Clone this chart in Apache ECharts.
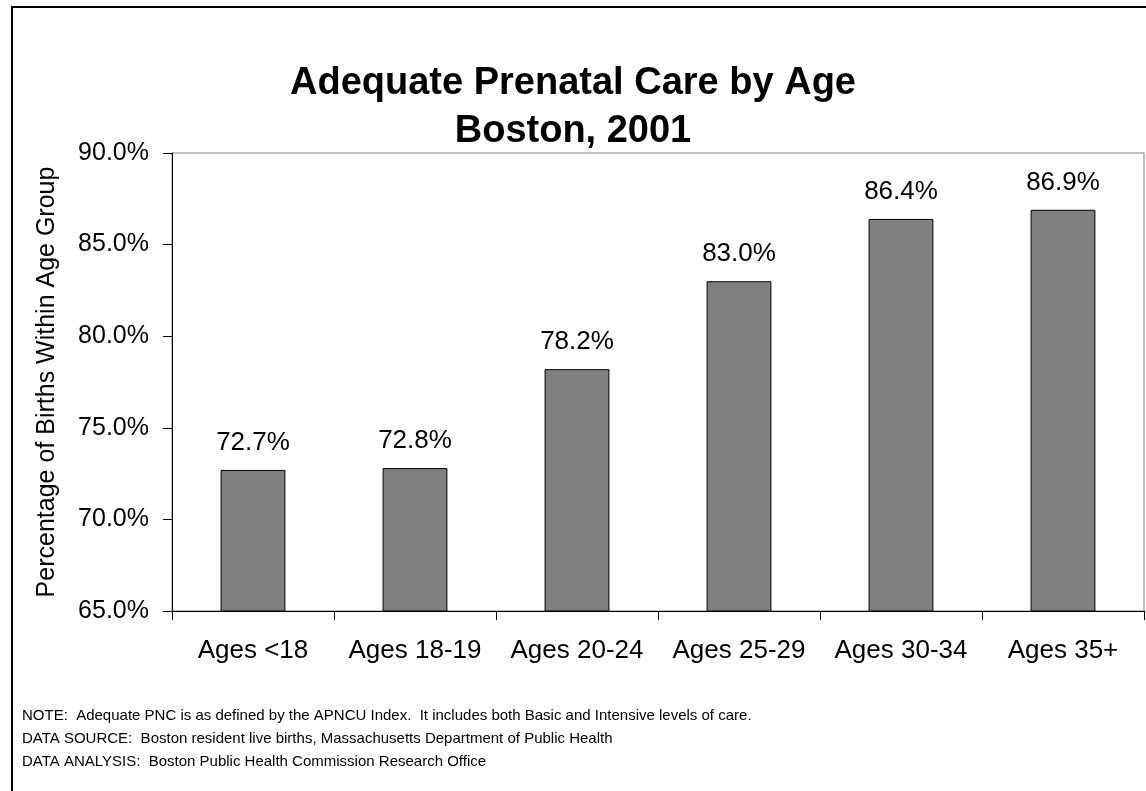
<!DOCTYPE html>
<html>
<head>
    <meta charset="utf-8">
    <script src="https://cdn.jsdelivr.net/npm/echarts@6/dist/echarts.min.js"></script>
    <style>
        html, body { margin: 0; padding: 0; background: #fff; }
    </style>
</head>
<body>
    <div id="chart" style="width: 1146px;height:791px;"></div>
    <script type="text/javascript">
        // data
        var ageGroups = ['Ages <18', 'Ages 18-19', 'Ages 20-24', 'Ages 25-29', 'Ages 30-34', 'Ages 35+'];
        var adequatePct = [72.7, 72.8, 78.2, 83.0, 86.4, 86.9];
        var notes = [
            'NOTE:  Adequate PNC is as defined by the APNCU Index.  It includes both Basic and Intensive levels of care.',
            'DATA SOURCE:  Boston resident live births, Massachusetts Department of Public Health',
            'DATA ANALYSIS:  Boston Public Health Commission Research Office'
        ];

        var font = 'Arial, "Liberation Sans", sans-serif';
        var myChart = echarts.init(document.getElementById('chart'));

        var noteTexts = [];
        for (var i = 0; i < notes.length; i++) {
            noteTexts.push({
                type: 'text', left: 22, top: 708 + i * 23,
                style: { text: notes[i], font: '15px ' + font, fill: '#000' }
            });
        }

        option = {
            backgroundColor: '#fff',
            animation: false,
            title: {
                text: 'Adequate Prenatal Care by Age\nBoston, 2001',
                left: 'center',
                top: 55,
                textStyle: { fontFamily: font, fontSize: 38, fontWeight: 'bold', color: '#000', lineHeight: 48 }
            },
            graphic: [{
                type: 'rect',
                shape: { x: 12, y: 7, width: 1200, height: 900 },
                style: { fill: 'none', stroke: '#000', lineWidth: 2 }
            }].concat(noteTexts),
            grid: { left: 172, right: 2, top: 153, bottom: 180, show: true, borderColor: '#808080', borderWidth: 1 },
            xAxis: {
                type: 'category',
                data: ageGroups,
                axisLine: { lineStyle: { color: '#000', width: 1 } },
                axisTick: { show: true, interval: 0, length: 9, lineStyle: { color: '#000' } },
                axisLabel: { interval: 0, hideOverlap: false, fontFamily: font, fontSize: 26, color: '#000', margin: 27 }
            },
            yAxis: {
                type: 'value',
                min: 65, max: 90, interval: 5,
                name: 'Percentage of Births Within Age Group',
                nameLocation: 'middle',
                nameGap: 112,
                nameTextStyle: { fontFamily: font, fontSize: 25, color: '#000' },
                splitLine: { show: false },
                axisLine: { show: true, lineStyle: { color: '#000', width: 1 } },
                axisTick: { show: true, length: 9, lineStyle: { color: '#000' } },
                axisLabel: {
                    fontFamily: font, fontSize: 25, color: '#000', margin: 23,
                    formatter: function (v) { return v.toFixed(1) + '%'; }
                }
            },
            series: [{
                type: 'bar',
                data: adequatePct,
                barWidth: '40%',
                itemStyle: { color: '#808080', borderColor: '#000', borderWidth: 1 },
                label: {
                    show: true, position: 'top', distance: 14,
                    fontFamily: font, fontSize: 26, color: '#000',
                    formatter: function (p) { return p.value.toFixed(1) + '%'; }
                }
            }]
        };
        myChart.setOption(option);
    </script>
</body>
</html>
